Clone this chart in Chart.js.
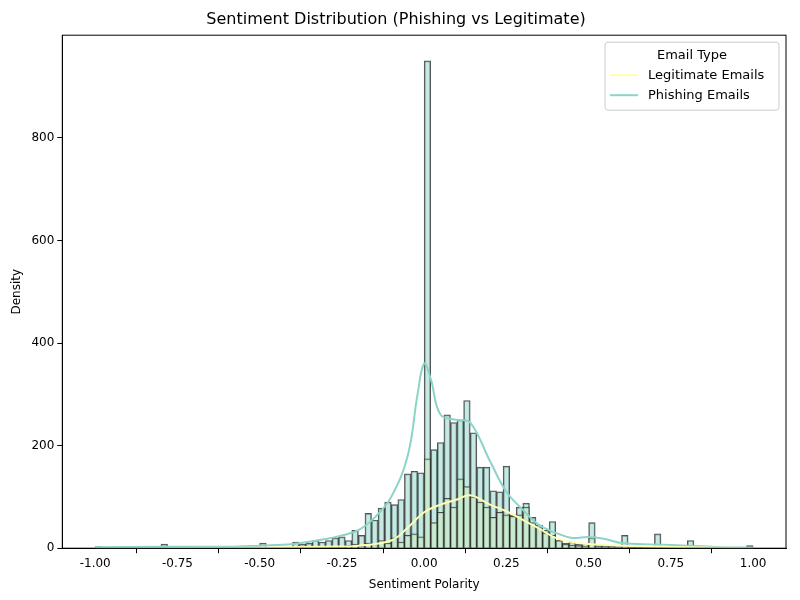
<!DOCTYPE html>
<html>
<head>
<meta charset="utf-8">
<script src="https://cdn.jsdelivr.net/npm/chart.js@4"></script>
<style>
  body { margin: 0; background: #fff; }
  #wrap { width: 800px; height: 600px; }
</style>
</head>
<body>
<div id="wrap"><canvas id="c"></canvas></div>
<script>
// 100 bins of width 0.02 from -1 to 1
const binStart = -1;
const binWidth = 0.02;
const phishingCounts = [
  3,0,0,0,0,0,0,0,0,0, 8,2,0,1,0,0,0,0,0,0,
  3,0,0,1,0,10,2,1,0,2, 12,8,10,15,12,15,20,22,15,35,
  25,68,55,78,90,85,95,145,150,147, 950,192,206,260,245,250,288,225,158,158,
  112,110,160,65,80,88,60,45,35,52, 15,10,12,8,10,50,5,5,4,3,
  25,3,2,2,2,28,3,2,2,2, 15,1,1,0,1,0,0,1,0,5
];
const legitCounts = [
  0,0,0,0,0,0,0,0,0,0, 1,0,0,0,0,0,0,0,0,0,
  0,0,0,0,0,1,0,0,0,0, 1,1,1,2,1,2,3,3,5,8,
  5,10,8,15,10,20,12,25,28,22, 174,50,70,97,80,135,120,100,90,80,
  60,70,65,62,65,80,50,40,30,25, 15,8,6,5,4,20,2,2,1,1,
  3,1,1,0,0,2,0,0,0,0, 1,0,0,0,0,0,0,0,0,0
];
// KDE curves
const phishKdeX = [-1,-0.8,-0.6,-0.5,-0.4,-0.3,-0.25,-0.2,-0.15,-0.1,-0.05,-0.02,0,0.02,0.05,0.1,0.14,0.2,0.25,0.3,0.35,0.4,0.45,0.5,0.55,0.6,0.7,0.8,0.9,1];
const phishKdeY = [2,3,3,5,8,18,25,35,60,100,180,300,360,330,260,250,245,170,110,75,45,30,20,22,18,10,7,5,2,1];
const legitKdeX = [-1,-0.5,-0.3,-0.2,-0.1,-0.05,0,0.05,0.1,0.14,0.2,0.25,0.3,0.35,0.4,0.45,0.5,0.6,0.8,1];
const legitKdeY = [0,1,3,5,15,40,70,85,95,103,85,72,55,38,20,12,8,5,2,0];

const toBars = arr => arr.map((v, i) => ({ x: binStart + binWidth * (i + 0.5), y: v }));
const toLine = (xs, ys) => xs.map((x, i) => ({ x: x, y: ys[i] }));
const font = { family: 'DejaVu Sans', size: 12 };

new Chart(document.getElementById('c'), {
  data: {
    datasets: [
      {
        type: 'line', label: 'Legitimate Emails', data: toLine(legitKdeX, legitKdeY),
        borderColor: '#ffffb3', borderWidth: 2, pointRadius: 0, tension: 0.4, order: 0
      },
      {
        type: 'line', label: 'Phishing Emails', data: toLine(phishKdeX, phishKdeY),
        borderColor: '#8dd3c7', borderWidth: 2, pointRadius: 0, tension: 0.4, order: 0
      },
      {
        type: 'bar', label: 'phish-hist', data: toBars(phishingCounts),
        backgroundColor: 'rgba(141,211,199,0.5)', borderColor: 'rgba(40,40,40,0.8)',
        borderWidth: 1, barPercentage: 1, categoryPercentage: 1, grouped: false, order: 2
      },
      {
        type: 'bar', label: 'legit-hist', data: toBars(legitCounts),
        backgroundColor: 'rgba(200,235,200,0.7)', borderColor: 'rgba(40,40,40,0.8)',
        borderWidth: 1, barPercentage: 1, categoryPercentage: 1, grouped: false, order: 1
      }
    ]
  },
  options: {
    responsive: true,
    maintainAspectRatio: false,
    animation: false,
    layout: { padding: { left: 6, right: 14, top: 4, bottom: 4 } },
    plugins: {
      title: {
        display: true, text: 'Sentiment Distribution (Phishing vs Legitimate)',
        color: '#000', font: { family: 'DejaVu Sans', size: 16, weight: 'normal' }, padding: { top: 6, bottom: 6 }
      },
      legend: { display: false },
      tooltip: { enabled: false }
    },
    scales: {
      x: {
        type: 'linear', min: -1.1, max: 1.1, offset: false,
        title: { display: true, text: 'Sentiment Polarity', color: '#000', font: font },
        grid: { drawOnChartArea: false, color: '#000', tickLength: 5 },
        border: { color: '#000' },
        afterBuildTicks: axis => { axis.ticks = [-1,-0.75,-0.5,-0.25,0,0.25,0.5,0.75,1].map(v => ({ value: v })); },
        ticks: { color: '#000', font: font, callback: v => v.toFixed(2) }
      },
      y: {
        min: 0, max: 1000,
        title: { display: true, text: 'Density', color: '#000', font: font },
        grid: { drawOnChartArea: false, color: '#000', tickLength: 5 },
        border: { color: '#000' },
        afterBuildTicks: axis => { axis.ticks = [0,200,400,600,800].map(v => ({ value: v })); },
        ticks: { color: '#000', font: font }
      }
    }
  },
  plugins: [{
    id: 'frameAndLegend',
    afterDraw(chart) {
      const a = chart.chartArea, ctx = chart.ctx;
      ctx.save();
      ctx.strokeStyle = '#000'; ctx.lineWidth = 1;
      ctx.strokeRect(a.left, a.top, a.right - a.left, a.bottom - a.top);
      // legend box in the upper right
      const w = 174, h = 68, x0 = a.right - w - 7, y0 = a.top + 7;
      ctx.fillStyle = 'rgba(255,255,255,0.8)';
      ctx.strokeStyle = '#ccc';
      ctx.beginPath(); ctx.roundRect(x0, y0, w, h, 3); ctx.fill(); ctx.stroke();
      ctx.fillStyle = '#000';
      ctx.font = '13px "DejaVu Sans"';
      ctx.textAlign = 'center'; ctx.textBaseline = 'middle';
      ctx.fillText('Email Type', x0 + w / 2, y0 + 13);
      ctx.textAlign = 'left';
      chart.data.datasets.filter(d => d.type === 'line').forEach((d, i) => {
        const y = y0 + 33 + i * 20;
        ctx.strokeStyle = d.borderColor; ctx.lineWidth = 2;
        ctx.beginPath(); ctx.moveTo(x0 + 5, y); ctx.lineTo(x0 + 33, y); ctx.stroke();
        ctx.fillText(d.label, x0 + 43, y);
      });
      ctx.restore();
    }
  }]
});
</script>
</body>
</html>
